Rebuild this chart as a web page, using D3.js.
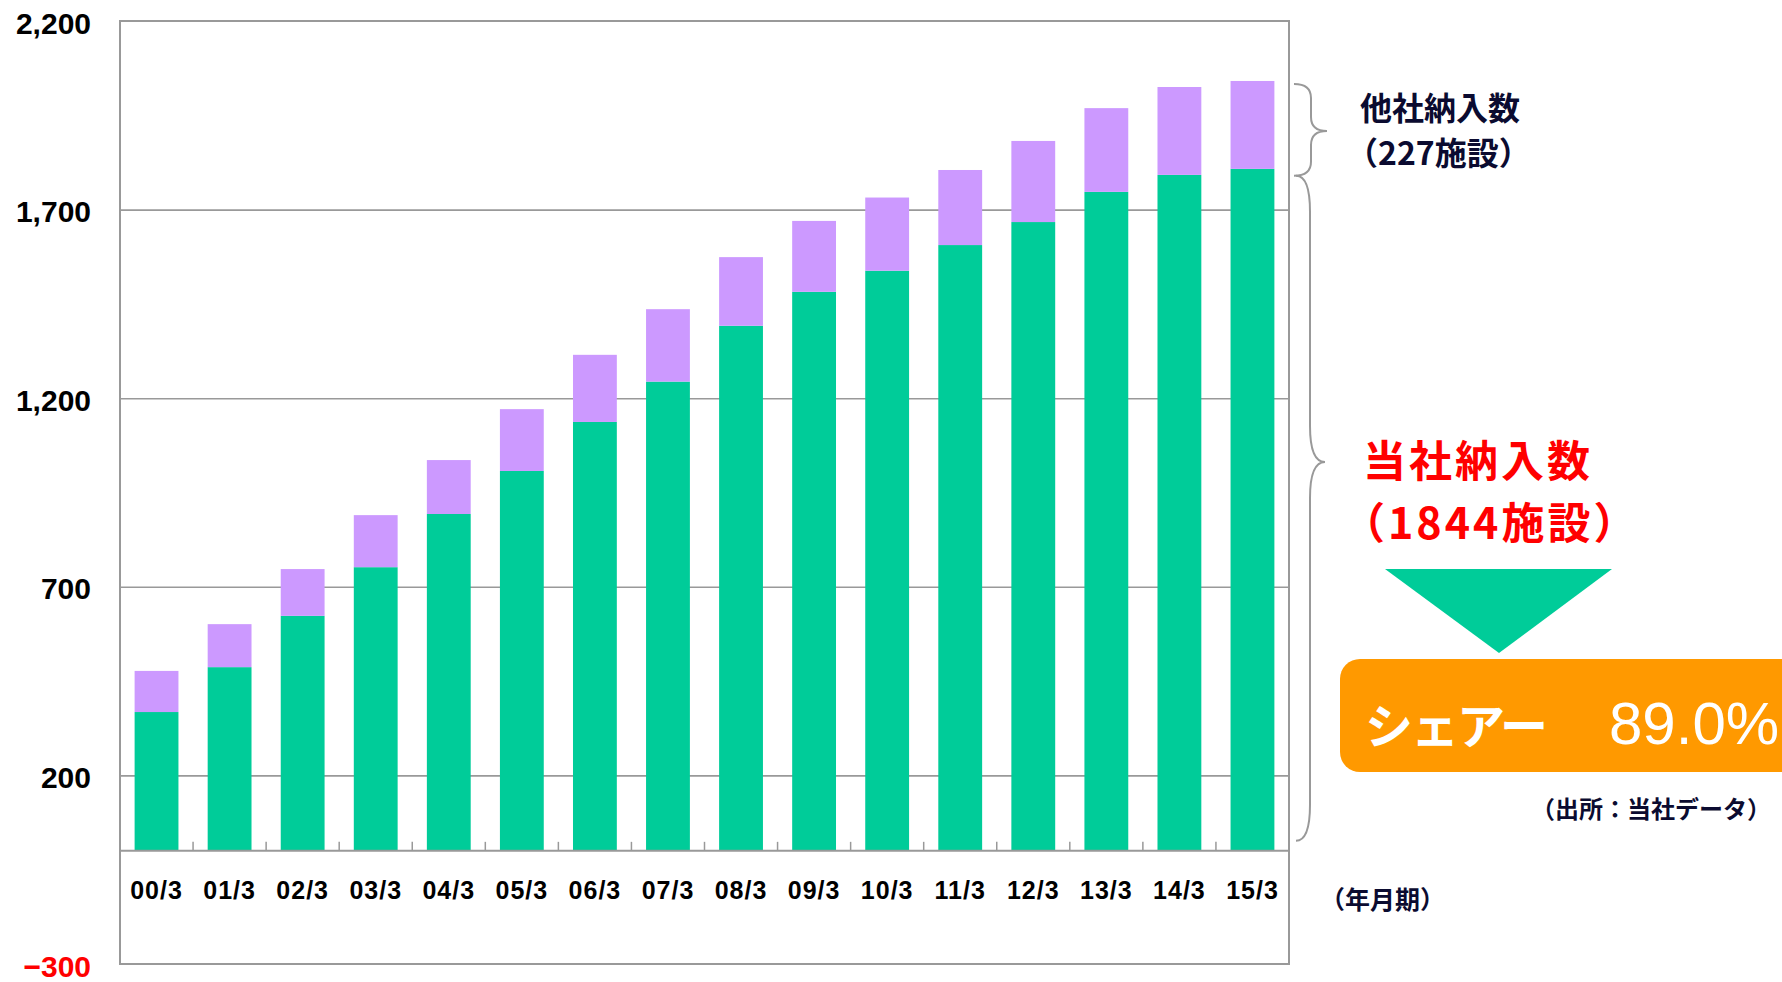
<!DOCTYPE html>
<html>
<head>
<meta charset="utf-8">
<script src="https://cdn.jsdelivr.net/npm/d3@7"></script>
<style>
  body { margin: 0; background: #fff; }
  svg { display: block; }
  .num { font-family: "Liberation Sans", Arial, sans-serif; font-weight: bold; }
  .jp { font-family: "Noto Sans CJK JP", sans-serif; font-weight: bold; }
</style>
</head>
<body>
<div id="chart"></div>
<script>
// 年月期
var categories = ['00/3', '01/3', '02/3', '03/3', '04/3', '05/3', '06/3', '07/3',
                  '08/3', '09/3', '10/3', '11/3', '12/3', '13/3', '14/3', '15/3']
// 当社納入数 (green)
var ownCounts = [368, 487, 623, 752, 893, 1007, 1137, 1244, 1392, 1482, 1538, 1606, 1667, 1747, 1792, 1808]
// 他社納入数 (purple)
var otherCounts = [109, 114, 124, 138, 143, 164, 178, 192, 182, 188, 194, 199, 215, 222, 233, 233]
var yTicks = [-300, 200, 700, 1200, 1700, 2200]
var gridTicks = [200, 700, 1200, 1700]

var cfg = {
  WIDTH: 1782,
  HEIGHT: 982,
  left: 120,
  right: 1289,
  top: 21,
  bottom: 964,
}

var svg = d3.select('#chart').append('svg')
  .attr('width', cfg.WIDTH)
  .attr('height', cfg.HEIGHT)

var x = d3.scaleBand()
  .domain(categories)
  .range([cfg.left, cfg.right])
  .paddingInner(0.4)
  .paddingOuter(0.2)

var y = d3.scaleLinear()
  .domain([-300, 2200])
  .range([cfg.bottom, cfg.top])

var rows = categories.map(function(c, i) {
  return {cat: c, own: ownCounts[i], other: otherCounts[i]}
})
var stacked = d3.stack().keys(['own', 'other'])(rows)
var colors = {own: '#00CC99', other: '#CC99FF'}

// gridlines
svg.append('g')
  .attr('transform', 'translate(' + cfg.left + ',0)')
  .call(d3.axisLeft(y).tickValues(gridTicks).tickSize(-(cfg.right - cfg.left)).tickFormat(''))
  .call(function(g) { g.select('.domain').remove() })
  .selectAll('line')
  .attr('stroke', '#999')
  .attr('stroke-width', 1.6)

// bars
svg.append('g').selectAll('g')
  .data(stacked)
  .enter().append('g')
  .attr('fill', function(s) { return colors[s.key] })
  .selectAll('rect')
  .data(function(s) { return s })
  .enter().append('rect')
  .attr('x', function(d) { return x(d.data.cat) })
  .attr('width', x.bandwidth())
  .attr('y', function(d) { return y(d[1]) })
  .attr('height', function(d) { return y(d[0]) - y(d[1]) })

// baseline at 0 and category separator ticks
svg.append('line')
  .attr('x1', cfg.left).attr('x2', cfg.right)
  .attr('y1', y(0)).attr('y2', y(0))
  .attr('stroke', '#999').attr('stroke-width', 2)

svg.append('g').selectAll('line')
  .data(categories.slice(1))
  .enter().append('line')
  .attr('x1', function(c) { return x(c) - x.step() * x.paddingInner() / 2 })
  .attr('x2', function(c) { return x(c) - x.step() * x.paddingInner() / 2 })
  .attr('y1', y(0) - 9)
  .attr('y2', y(0))
  .attr('stroke', '#999').attr('stroke-width', 1.5)

// plot border
svg.append('rect')
  .attr('x', cfg.left).attr('y', cfg.top)
  .attr('width', cfg.right - cfg.left)
  .attr('height', cfg.bottom - cfg.top)
  .attr('fill', 'none')
  .attr('stroke', '#999')
  .attr('stroke-width', 2)

// y axis labels
svg.append('g')
  .attr('transform', 'translate(' + cfg.left + ',0)')
  .call(d3.axisLeft(y).tickValues(yTicks).tickSize(0).tickPadding(29).tickFormat(d3.format(',')))
  .call(function(g) { g.select('.domain').remove() })
  .selectAll('text')
  .attr('class', 'num')
  .attr('font-size', 30)
  .attr('dy', '0.4em')
  .attr('fill', function(d) { return d < 0 ? '#FF0000' : '#000' })

// x axis labels
svg.append('g')
  .attr('transform', 'translate(0,' + y(0) + ')')
  .call(d3.axisBottom(x).tickSize(0).tickPadding(30))
  .call(function(g) { g.select('.domain').remove() })
  .selectAll('text')
  .attr('class', 'num')
  .attr('font-size', 25)
  .attr('letter-spacing', 1)
  .attr('fill', '#000')

// braces
function brace(x0, xm, xt, y0, ym, y1, r) {
  return 'M' + x0 + ',' + y0 +
    'Q' + xm + ',' + y0 + ' ' + xm + ',' + (y0 + r) +
    'L' + xm + ',' + (ym - r) +
    'Q' + xm + ',' + ym + ' ' + xt + ',' + ym +
    'Q' + xm + ',' + ym + ' ' + xm + ',' + (ym + r) +
    'L' + xm + ',' + (y1 - r) +
    'Q' + xm + ',' + y1 + ' ' + x0 + ',' + y1
}
var last = rows[rows.length - 1]
svg.append('path')
  .attr('d', brace(1294, 1311, 1327, y(last.own + last.other) + 3, 131, y(last.own) + 7, 14))
  .attr('fill', 'none').attr('stroke', '#999').attr('stroke-width', 2)
svg.append('path')
  .attr('d', brace(1296, 1310, 1325, y(last.own) + 7, 462, y(0) - 10, 36))
  .attr('fill', 'none').attr('stroke', '#999').attr('stroke-width', 2)

// annotations
var navy = '#0B0B30'
function label(lines, px, py, lineGap, size, color, spacing) {
  var t = svg.append('text')
    .attr('class', 'jp')
    .attr('font-size', size)
    .attr('fill', color)
    .attr('letter-spacing', spacing || 0)
    .attr('dominant-baseline', 'central')
  lines.forEach(function(line, i) {
    t.append('tspan')
      .attr('x', px[i]).attr('y', py + i * lineGap)
      .text(line)
  })
  return t
}
label(['他社納入数', '（227施設）'], [1360, 1346], 106, 45, 32, navy)
label(['当社納入数', '（1844施設）'], [1363, 1342], 458, 62, 43, '#FF0000', 3)

svg.append('path')
  .attr('d', d3.line()([[1385, 569], [1612, 569], [1499, 653]]) + 'Z')
  .attr('fill', '#00CC99')

svg.append('rect')
  .attr('x', 1340).attr('y', 659)
  .attr('width', 480).attr('height', 113)
  .attr('rx', 20)
  .attr('fill', '#FF9900')

var share = svg.append('text')
  .attr('x', 1365).attr('y', 744)
  .attr('fill', '#fff')
share.append('tspan')
  .attr('font-family', '"Noto Sans CJK JP", sans-serif')
  .attr('font-weight', 'bold')
  .attr('font-size', 48)
  .attr('letter-spacing', -2)
  .text('シェアー')
share.append('tspan')
  .attr('x', 1609)
  .attr('font-family', '"Liberation Sans", Arial, sans-serif')
  .attr('font-size', 60)
  .text('89.0%')

label(['（出所：当社データ）'], [1531], 807, 0, 24, navy)
label(['（年月期）'], [1320], 898, 0, 25, navy)
</script>
</body>
</html>
